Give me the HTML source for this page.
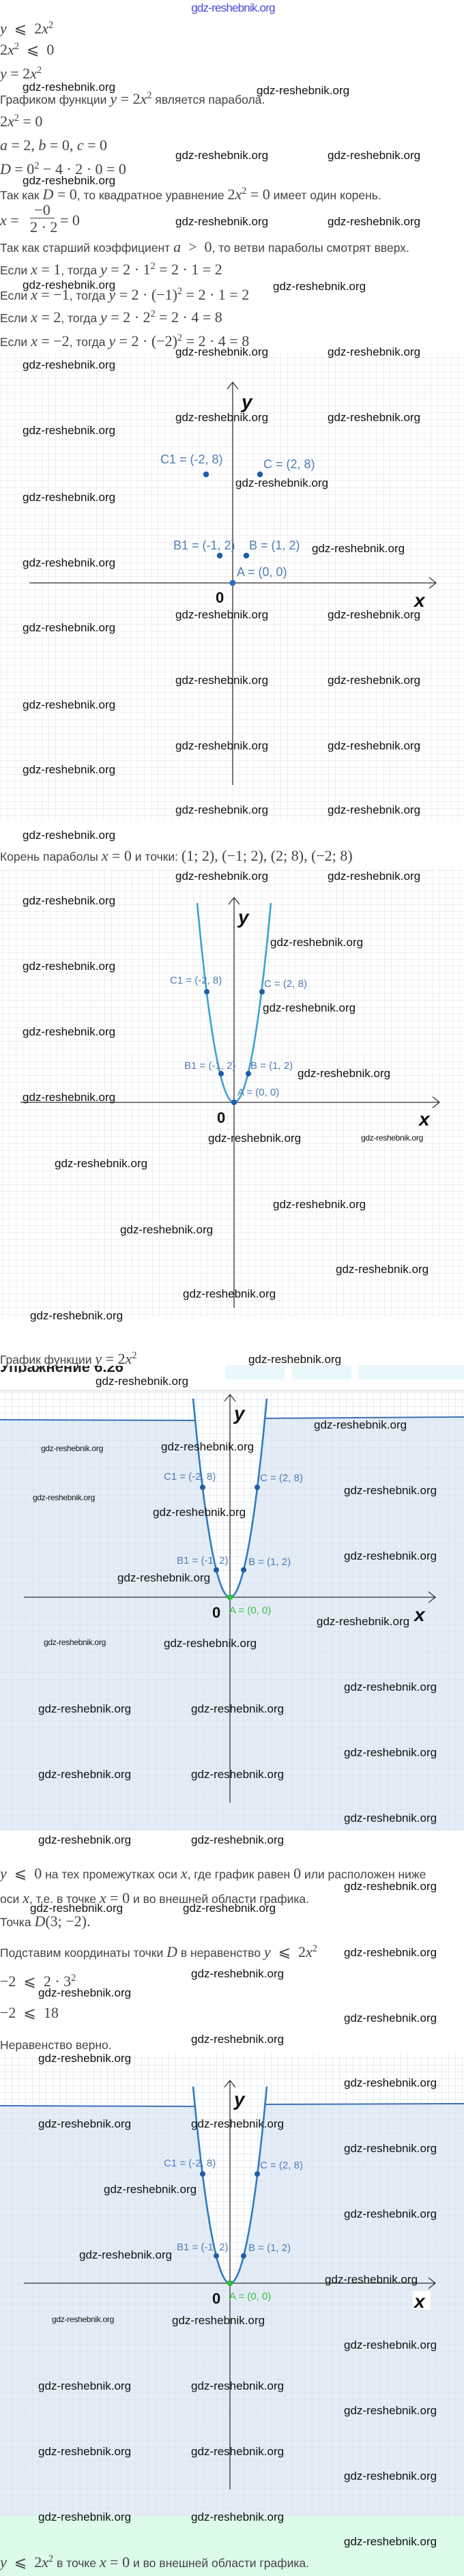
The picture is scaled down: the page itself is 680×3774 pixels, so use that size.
<!DOCTYPE html>
<html><head><meta charset="utf-8">
<style>
html,body{margin:0;padding:0;background:#fff}
body{width:680px;height:3774px;position:relative;overflow:hidden;font-family:"Liberation Sans",sans-serif}
.t{position:absolute;left:0;white-space:nowrap;font-size:17.5px;color:#444;line-height:24px;height:24px}
.m{font-family:"Liberation Serif",serif;font-size:22px;color:#444}
.i{font-style:italic}
.w{position:absolute;white-space:nowrap;font-family:"Liberation Sans",sans-serif;font-size:17px;color:#111;line-height:20px;z-index:5}
.ws{font-size:12px;letter-spacing:-0.3px}
sup{font-size:0.65em;vertical-align:0.55em;line-height:0}
</style></head><body>

<svg width="680" height="3774" style="position:absolute;left:0;top:0" xmlns="http://www.w3.org/2000/svg">
<defs>
<pattern id="g1" patternUnits="userSpaceOnUse" x="1" y="4" width="10" height="10"><path d="M0 0.5H10M0.5 0V10" stroke="#efefef" stroke-width="1" fill="none"/></pattern>
<pattern id="g2" patternUnits="userSpaceOnUse" x="3" y="5" width="10" height="10"><path d="M0 0.5H10M0.5 0V10" stroke="#efefef" stroke-width="1" fill="none"/></pattern>
<pattern id="g3" patternUnits="userSpaceOnUse" x="7" y="0" width="10" height="10"><path d="M0 0.5H10M0.5 0V10" stroke="#d9dfe6" stroke-opacity="0.6" stroke-width="1" fill="none"/></pattern>
<pattern id="g4" patternUnits="userSpaceOnUse" x="7" y="5" width="10" height="10"><path d="M0 0.5H10M0.5 0V10" stroke="#d9dfe6" stroke-opacity="0.6" stroke-width="1" fill="none"/></pattern>
</defs>

<!-- Graph 1 -->
<rect x="0" y="518" width="680" height="684" fill="url(#g1)"/>
<g stroke="#333" stroke-width="1.3" fill="none">
<path d="M341 1150V560M333 570L341 560L349 570"/>
<path d="M43 854H639M629 846L639 854L629 862"/>
</g>
<g fill="#1f5ea8"><circle cx="302" cy="695" r="4.2"/><circle cx="381" cy="695" r="4.2"/><circle cx="322" cy="814" r="4.2"/><circle cx="361" cy="814" r="4.2"/><circle cx="341" cy="854" r="4.5" fill="#2a6fc4"/></g>
<g font-family="Liberation Sans,sans-serif" font-size="18" fill="#4f7db8">
<text x="235" y="679">C1 = (-2, 8)</text><text x="386" y="686">C = (2, 8)</text>
<text x="254" y="805">B1 = (-1, 2)</text><text x="365" y="805">B = (1, 2)</text>
<text x="347" y="844">A = (0, 0)</text></g>
<g font-family="Liberation Sans,sans-serif" fill="#111">
<text x="354" y="598" font-size="28" font-style="italic" font-weight="bold">y</text>
<text x="607" y="889" font-size="28" font-style="italic" font-weight="bold">x</text>
<text x="316" y="883" font-size="22" font-weight="bold">0</text></g>

<!-- Graph 2 -->
<rect x="0" y="1272" width="680" height="658" fill="url(#g2)"/>
<g stroke="#333" stroke-width="1.3" fill="none">
<path d="M343 1916V1315M335 1325L343 1315L351 1325"/>
<path d="M30 1615H644M634 1607L644 1615L634 1623"/>
</g>
<path d="M289 1323Q343 1907 397 1323" stroke="#3ba3d6" stroke-width="2.6" fill="none"/>
<g fill="#1f5ea8"><circle cx="303" cy="1453" r="4"/><circle cx="384" cy="1453" r="4"/><circle cx="324" cy="1573" r="4"/><circle cx="364" cy="1573" r="4"/><circle cx="343" cy="1615" r="4.2"/></g>
<g font-family="Liberation Sans,sans-serif" font-size="15" fill="#4f7db8">
<text x="249" y="1441">C1 = (-2, 8)</text><text x="387" y="1446">C = (2, 8)</text>
<text x="270" y="1566">B1 = (-1, 2)</text><text x="367" y="1566">B = (1, 2)</text>
<text x="348" y="1605">A = (0, 0)</text></g>
<g font-family="Liberation Sans,sans-serif" fill="#111">
<text x="349" y="1353" font-size="28" font-style="italic" font-weight="bold">y</text>
<text x="614" y="1649" font-size="28" font-style="italic" font-weight="bold">x</text>
<text x="318" y="1645" font-size="22" font-weight="bold">0</text></g>

<!-- header strip before graph 3 -->
<rect x="330" y="2000" width="87" height="21" rx="4" fill="#e8f8fb"/>
<rect x="428" y="2000" width="87" height="21" rx="4" fill="#e8f8fb"/>
<rect x="525" y="2000" width="160" height="21" rx="4" fill="#e8f8fb"/>

<!-- Graph 3 -->
<rect x="0" y="2036" width="680" height="4" fill="#eeeeee"/>
<rect x="0" y="2039" width="680" height="643" fill="#fff"/>
<path d="M0 2080L286 2080Q337 2600 388 2078L680 2076V2682H0Z" fill="#e4edf7"/>
<rect x="0" y="2039" width="680" height="643" fill="url(#g3)"/>
<path d="M0 2080L286 2081M388 2078L680 2076" stroke="#3d72b5" stroke-width="2" fill="none"/>
<g stroke="#333" stroke-width="1.3" fill="none">
<path d="M337 2641V2043M329 2053L337 2043L345 2053"/>
<path d="M35 2340H638M628 2332L638 2340L628 2348"/>
</g>
<path d="M283 2049Q337 2631 391 2049" stroke="#2f7bc4" stroke-width="2.6" fill="none"/>
<g fill="#1f5ea8"><circle cx="297" cy="2179" r="4"/><circle cx="377" cy="2179" r="4"/><circle cx="317" cy="2300" r="4"/><circle cx="357" cy="2300" r="4"/></g>
<circle cx="337" cy="2340" r="4.2" fill="#2fbf3a"/>
<g font-family="Liberation Sans,sans-serif" font-size="15" fill="#4f7db8">
<text x="240" y="2168">C1 = (-2, 8)</text><text x="381" y="2170">C = (2, 8)</text>
<text x="259" y="2291">B1 = (-1, 2)</text><text x="364" y="2293">B = (1, 2)</text></g>
<text x="336" y="2364" font-family="Liberation Sans,sans-serif" font-size="15" fill="#3cc043">A = (0, 0)</text>
<g font-family="Liberation Sans,sans-serif" fill="#111">
<text x="343" y="2080" font-size="28" font-style="italic" font-weight="bold">y</text>
<text x="607" y="2375" font-size="28" font-style="italic" font-weight="bold">x</text>
<text x="311" y="2370" font-size="22" font-weight="bold">0</text></g>

<!-- Graph 4 -->
<rect x="0" y="3010" width="680" height="676" fill="#fff"/>
<path d="M0 3085L286 3085Q337 3605 388 3083L680 3082V3686H0Z" fill="#e4edf7"/>
<rect x="0" y="3010" width="680" height="676" fill="url(#g4)"/>
<path d="M0 3085L286 3086M388 3083L680 3082" stroke="#3d72b5" stroke-width="2" fill="none"/>
<g stroke="#333" stroke-width="1.3" fill="none">
<path d="M337 3647V3048M329 3058L337 3048L345 3058"/>
<path d="M35 3345H638M628 3337L638 3345L628 3353"/>
</g>
<path d="M283 3057Q337 3633 391 3057" stroke="#2f7bc4" stroke-width="2.6" fill="none"/>
<g fill="#1f5ea8"><circle cx="297" cy="3185" r="4"/><circle cx="377" cy="3185" r="4"/><circle cx="317" cy="3305" r="4"/><circle cx="357" cy="3305" r="4"/></g>
<circle cx="337" cy="3345" r="4.2" fill="#2fbf3a"/>
<g font-family="Liberation Sans,sans-serif" font-size="15" fill="#4f7db8">
<text x="240" y="3174">C1 = (-2, 8)</text><text x="381" y="3177">C = (2, 8)</text>
<text x="259" y="3297">B1 = (-1, 2)</text><text x="364" y="3298">B = (1, 2)</text></g>
<text x="336" y="3369" font-family="Liberation Sans,sans-serif" font-size="15" fill="#3cc043">A = (0, 0)</text>
<rect x="605" y="3356" width="26" height="28" fill="#fff"/>
<g font-family="Liberation Sans,sans-serif" fill="#111">
<text x="343" y="3085" font-size="28" font-style="italic" font-weight="bold">y</text>
<text x="607" y="3381" font-size="28" font-style="italic" font-weight="bold">x</text>
<text x="311" y="3375" font-size="22" font-weight="bold">0</text></g>

<rect x="0" y="3686" width="680" height="88" fill="#dcfbe9"/>
</svg>

<!-- header watermark -->
<div style="position:absolute;left:270px;top:1px;width:143px;text-align:center;font-size:17px;color:#4a4ad8;letter-spacing:-0.8px;line-height:22px">gdz-reshebnik.org</div>

<!-- text block 1 -->
<div class="t" style="top:30px"><span class="m"><span class="i">y</span> &nbsp;⩽&nbsp; 2<span class="i">x</span><sup>2</sup></span></div>
<div class="t" style="top:61px"><span class="m">2<span class="i">x</span><sup>2</sup> &nbsp;⩽&nbsp; 0</span></div>
<div class="t" style="top:96px"><span class="m"><span class="i">y</span> = 2<span class="i">x</span><sup>2</sup></span></div>
<div class="t" style="top:133px">Графиком функции <span class="m"><span class="i">y</span> = 2<span class="i">x</span><sup>2</sup></span> является парабола.</div>
<div class="t" style="top:166px"><span class="m">2<span class="i">x</span><sup>2</sup> = 0</span></div>
<div class="t" style="top:201px"><span class="m"><span class="i">a</span> = 2, <span class="i">b</span> = 0, <span class="i">c</span> = 0</span></div>
<div class="t" style="top:236px"><span class="m"><span class="i">D</span> = 0<sup>2</sup> − 4 · 2 · 0 = 0</span></div>
<div class="t" style="top:273px">Так как <span class="m"><span class="i">D</span> = 0</span>, то квадратное уравнение <span class="m">2<span class="i">x</span><sup>2</sup> = 0</span> имеет один корень.</div>
<div class="t" style="top:298px;height:50px"><span class="m" style="position:absolute;top:13px;left:0"><span class="i">x</span> =</span>
<span class="m" style="position:absolute;left:44px;top:-1px;width:36px;text-align:center;border-bottom:1px solid #444;line-height:22px">−0</span>
<span class="m" style="position:absolute;left:44px;top:24px;width:36px;text-align:center;line-height:22px">2 · 2</span>
<span class="m" style="position:absolute;left:88px;top:13px">= 0</span></div>
<div class="t" style="top:350px">Так как старший коэффициент <span class="m"><span class="i">a</span> &nbsp;&gt;&nbsp; 0</span>, то ветви параболы смотрят вверх.</div>
<div class="t" style="top:383px">Если <span class="m"><span class="i">x</span> = 1</span>, тогда <span class="m"><span class="i">y</span> = 2 · 1<sup>2</sup> = 2 · 1 = 2</span></div>
<div class="t" style="top:420px">Если <span class="m"><span class="i">x</span> = −1</span>, тогда <span class="m"><span class="i">y</span> = 2 · (−1)<sup>2</sup> = 2 · 1 = 2</span></div>
<div class="t" style="top:453px">Если <span class="m"><span class="i">x</span> = 2</span>, тогда <span class="m"><span class="i">y</span> = 2 · 2<sup>2</sup> = 2 · 4 = 8</span></div>
<div class="t" style="top:488px">Если <span class="m"><span class="i">x</span> = −2</span>, тогда <span class="m"><span class="i">y</span> = 2 · (−2)<sup>2</sup> = 2 · 4 = 8</span></div>

<div class="t" style="top:1242px">Корень параболы <span class="m"><span class="i">x</span> = 0</span> и точки: <span class="m">(1; 2), (−1; 2), (2; 8), (−2; 8)</span></div>
<div class="t" style="top:1979px">График функции <span class="m"><span class="i">y</span> = 2<span class="i">x</span><sup>2</sup></span></div>
<div style="position:absolute;left:0;top:2001px;height:10px;overflow:hidden;width:300px"><div style="margin-top:-11px;font-size:22px;font-weight:bold;color:#222">Упражнение 6.26</div></div>

<div class="t" style="top:2733px"><span class="m"><span class="i">y</span> &nbsp;⩽&nbsp; 0</span> на тех промежутках оси <span class="m i">x</span>, где график равен <span class="m">0</span> или расположен ниже</div>
<div class="t" style="top:2769px">оси <span class="m i">x</span>, т.е. в точке <span class="m"><span class="i">x</span> = 0</span> и во внешней области графика.</div>
<div class="t" style="top:2803px">Точка <span class="m"><span class="i">D</span>(3; −2).</span></div>
<div class="t" style="top:2848px">Подставим координаты точки <span class="m i">D</span> в неравенство <span class="m"><span class="i">y</span> &nbsp;⩽&nbsp; 2<span class="i">x</span><sup>2</sup></span></div>
<div class="t" style="top:2891px"><span class="m">−2 &nbsp;⩽&nbsp; 2 · 3<sup>2</sup></span></div>
<div class="t" style="top:2937px"><span class="m">−2 &nbsp;⩽&nbsp; 18</span></div>
<div class="t" style="top:2984px">Неравенство верно.</div>
<div class="t" style="top:3742px"><span class="m"><span class="i">y</span> &nbsp;⩽&nbsp; 2<span class="i">x</span><sup>2</sup></span> в точке <span class="m"><span class="i">x</span> = 0</span> и во внешней области графика.</div>

<!-- watermarks -->
<div class="w" style="left:33px;top:118px">gdz-reshebnik.org</div>
<div class="w" style="left:376px;top:123px">gdz-reshebnik.org</div>
<div class="w" style="left:257px;top:218px">gdz-reshebnik.org</div>
<div class="w" style="left:480px;top:218px">gdz-reshebnik.org</div>
<div class="w" style="left:33px;top:255px">gdz-reshebnik.org</div>
<div class="w" style="left:257px;top:315px">gdz-reshebnik.org</div>
<div class="w" style="left:480px;top:315px">gdz-reshebnik.org</div>
<div class="w" style="left:33px;top:408px">gdz-reshebnik.org</div>
<div class="w" style="left:400px;top:410px">gdz-reshebnik.org</div>
<div class="w" style="left:257px;top:506px">gdz-reshebnik.org</div>
<div class="w" style="left:480px;top:506px">gdz-reshebnik.org</div>

<div class="w" style="left:33px;top:525px">gdz-reshebnik.org</div>
<div class="w" style="left:33px;top:621px">gdz-reshebnik.org</div>
<div class="w" style="left:33px;top:719px">gdz-reshebnik.org</div>
<div class="w" style="left:33px;top:815px">gdz-reshebnik.org</div>
<div class="w" style="left:33px;top:910px">gdz-reshebnik.org</div>
<div class="w" style="left:33px;top:1023px">gdz-reshebnik.org</div>
<div class="w" style="left:257px;top:602px">gdz-reshebnik.org</div>
<div class="w" style="left:480px;top:602px">gdz-reshebnik.org</div>
<div class="w" style="left:345px;top:698px">gdz-reshebnik.org</div>
<div class="w" style="left:457px;top:794px">gdz-reshebnik.org</div>
<div class="w" style="left:257px;top:891px">gdz-reshebnik.org</div>
<div class="w" style="left:480px;top:891px">gdz-reshebnik.org</div>
<div class="w" style="left:257px;top:987px">gdz-reshebnik.org</div>
<div class="w" style="left:480px;top:987px">gdz-reshebnik.org</div>
<div class="w" style="left:257px;top:1083px">gdz-reshebnik.org</div>
<div class="w" style="left:480px;top:1083px">gdz-reshebnik.org</div>
<div class="w" style="left:33px;top:1118px">gdz-reshebnik.org</div>
<div class="w" style="left:257px;top:1177px">gdz-reshebnik.org</div>
<div class="w" style="left:480px;top:1177px">gdz-reshebnik.org</div>
<div class="w" style="left:33px;top:1214px">gdz-reshebnik.org</div>

<div class="w" style="left:257px;top:1274px">gdz-reshebnik.org</div>
<div class="w" style="left:480px;top:1274px">gdz-reshebnik.org</div>
<div class="w" style="left:33px;top:1310px">gdz-reshebnik.org</div>
<div class="w" style="left:396px;top:1371px">gdz-reshebnik.org</div>
<div class="w" style="left:33px;top:1406px">gdz-reshebnik.org</div>
<div class="w" style="left:385px;top:1467px">gdz-reshebnik.org</div>
<div class="w" style="left:33px;top:1502px">gdz-reshebnik.org</div>
<div class="w" style="left:436px;top:1563px">gdz-reshebnik.org</div>
<div class="w" style="left:33px;top:1598px">gdz-reshebnik.org</div>
<div class="w" style="left:305px;top:1658px">gdz-reshebnik.org</div>
<div class="w ws" style="left:529px;top:1657px">gdz-reshebnik.org</div>
<div class="w" style="left:80px;top:1695px">gdz-reshebnik.org</div>
<div class="w" style="left:400px;top:1755px">gdz-reshebnik.org</div>
<div class="w" style="left:176px;top:1792px">gdz-reshebnik.org</div>
<div class="w" style="left:492px;top:1850px">gdz-reshebnik.org</div>
<div class="w" style="left:268px;top:1886px">gdz-reshebnik.org</div>
<div class="w" style="left:44px;top:1918px">gdz-reshebnik.org</div>
<div class="w" style="left:364px;top:1982px">gdz-reshebnik.org</div>
<div class="w" style="left:140px;top:2014px">gdz-reshebnik.org</div>

<div class="w" style="left:460px;top:2078px">gdz-reshebnik.org</div>
<div class="w ws" style="left:60px;top:2112px">gdz-reshebnik.org</div>
<div class="w" style="left:236px;top:2110px">gdz-reshebnik.org</div>
<div class="w" style="left:504px;top:2174px">gdz-reshebnik.org</div>
<div class="w ws" style="left:48px;top:2184px">gdz-reshebnik.org</div>
<div class="w" style="left:224px;top:2206px">gdz-reshebnik.org</div>
<div class="w" style="left:504px;top:2270px">gdz-reshebnik.org</div>
<div class="w" style="left:172px;top:2302px">gdz-reshebnik.org</div>
<div class="w" style="left:464px;top:2366px">gdz-reshebnik.org</div>
<div class="w ws" style="left:64px;top:2396px">gdz-reshebnik.org</div>
<div class="w" style="left:240px;top:2398px">gdz-reshebnik.org</div>
<div class="w" style="left:504px;top:2462px">gdz-reshebnik.org</div>
<div class="w" style="left:56px;top:2494px">gdz-reshebnik.org</div>
<div class="w" style="left:280px;top:2494px">gdz-reshebnik.org</div>
<div class="w" style="left:504px;top:2558px">gdz-reshebnik.org</div>
<div class="w" style="left:56px;top:2590px">gdz-reshebnik.org</div>
<div class="w" style="left:280px;top:2590px">gdz-reshebnik.org</div>
<div class="w" style="left:504px;top:2654px">gdz-reshebnik.org</div>
<div class="w" style="left:56px;top:2686px">gdz-reshebnik.org</div>
<div class="w" style="left:280px;top:2686px">gdz-reshebnik.org</div>

<div class="w" style="left:504px;top:2754px">gdz-reshebnik.org</div>
<div class="w" style="left:44px;top:2786px">gdz-reshebnik.org</div>
<div class="w" style="left:268px;top:2786px">gdz-reshebnik.org</div>
<div class="w" style="left:504px;top:2851px">gdz-reshebnik.org</div>
<div class="w" style="left:280px;top:2882px">gdz-reshebnik.org</div>
<div class="w" style="left:56px;top:2910px">gdz-reshebnik.org</div>
<div class="w" style="left:504px;top:2947px">gdz-reshebnik.org</div>
<div class="w" style="left:280px;top:2978px">gdz-reshebnik.org</div>
<div class="w" style="left:56px;top:3006px">gdz-reshebnik.org</div>

<div class="w" style="left:504px;top:3042px">gdz-reshebnik.org</div>
<div class="w" style="left:56px;top:3102px">gdz-reshebnik.org</div>
<div class="w" style="left:280px;top:3102px">gdz-reshebnik.org</div>
<div class="w" style="left:504px;top:3138px">gdz-reshebnik.org</div>
<div class="w" style="left:152px;top:3198px">gdz-reshebnik.org</div>
<div class="w" style="left:504px;top:3234px">gdz-reshebnik.org</div>
<div class="w" style="left:116px;top:3294px">gdz-reshebnik.org</div>
<div class="w" style="left:476px;top:3330px">gdz-reshebnik.org</div>
<div class="w ws" style="left:76px;top:3388px">gdz-reshebnik.org</div>
<div class="w" style="left:252px;top:3390px">gdz-reshebnik.org</div>
<div class="w" style="left:504px;top:3426px">gdz-reshebnik.org</div>
<div class="w" style="left:56px;top:3486px">gdz-reshebnik.org</div>
<div class="w" style="left:280px;top:3486px">gdz-reshebnik.org</div>
<div class="w" style="left:504px;top:3522px">gdz-reshebnik.org</div>
<div class="w" style="left:56px;top:3582px">gdz-reshebnik.org</div>
<div class="w" style="left:280px;top:3582px">gdz-reshebnik.org</div>
<div class="w" style="left:504px;top:3618px">gdz-reshebnik.org</div>
<div class="w" style="left:56px;top:3678px">gdz-reshebnik.org</div>
<div class="w" style="left:280px;top:3678px">gdz-reshebnik.org</div>
<div class="w" style="left:504px;top:3714px">gdz-reshebnik.org</div>
</body></html>
